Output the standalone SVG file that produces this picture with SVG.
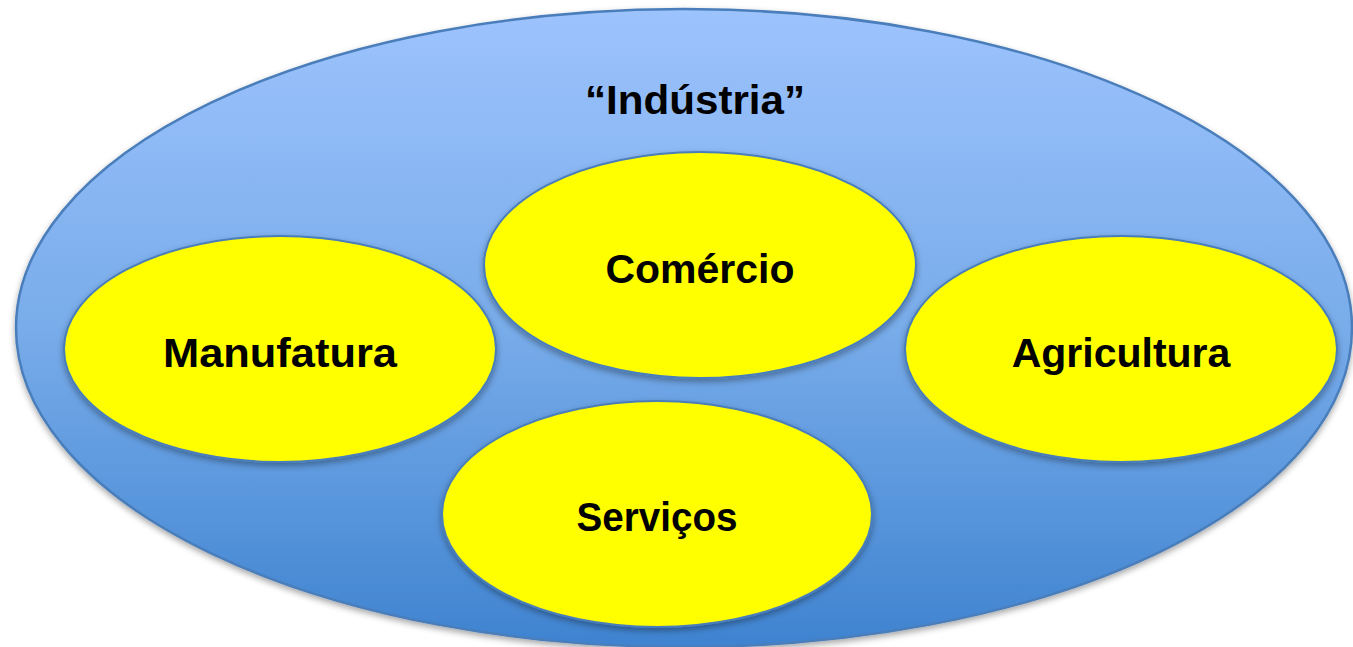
<svg xmlns="http://www.w3.org/2000/svg" width="1353" height="647" viewBox="0 0 1353 647">
<style>
.node{fill:#ffff00;stroke:#4a7ebb;stroke-width:2;filter:url(#sh)}
.lbl{font-family:"Liberation Sans",Arial,sans-serif;font-weight:bold;font-size:41px;fill:#000;text-anchor:middle}
</style>
<defs>
<linearGradient id="bg" x1="0" y1="0" x2="0" y2="1">
<stop offset="0" stop-color="#9dc3fd"/>
<stop offset="0.5" stop-color="#78acea"/>
<stop offset="1" stop-color="#3f83d0"/>
</linearGradient>
<filter id="sh" x="-10%" y="-10%" width="120%" height="130%">
<feDropShadow dx="0" dy="3" stdDeviation="3" flood-color="#000" flood-opacity="0.35"/>
</filter>
</defs>
<rect width="1353" height="647" fill="#ffffff"/>
<g id="industria">
<ellipse cx="684" cy="328" rx="668" ry="319" fill="url(#bg)" stroke="#4a7ebb" stroke-width="2.5" filter="url(#sh)"/>
<text class="lbl" x="695" y="114" textLength="220" lengthAdjust="spacingAndGlyphs">“Indústria”</text>
</g>
<g id="comercio">
<ellipse class="node" cx="700" cy="265" rx="216" ry="113"/>
<text class="lbl" x="700" y="283">Comércio</text>
</g>
<g id="manufatura">
<ellipse class="node" cx="280" cy="349" rx="216" ry="113"/>
<text class="lbl" x="280" y="367" textLength="234" lengthAdjust="spacingAndGlyphs">Manufatura</text>
</g>
<g id="agricultura">
<ellipse class="node" cx="1121" cy="349" rx="216" ry="113"/>
<text class="lbl" x="1121" y="367">Agricultura</text>
</g>
<g id="servicos">
<ellipse class="node" cx="657" cy="514" rx="215" ry="113"/>
<text class="lbl" x="657" y="531" textLength="161" lengthAdjust="spacingAndGlyphs">Serviços</text>
</g>
<g id="connectors"></g>
</svg>
